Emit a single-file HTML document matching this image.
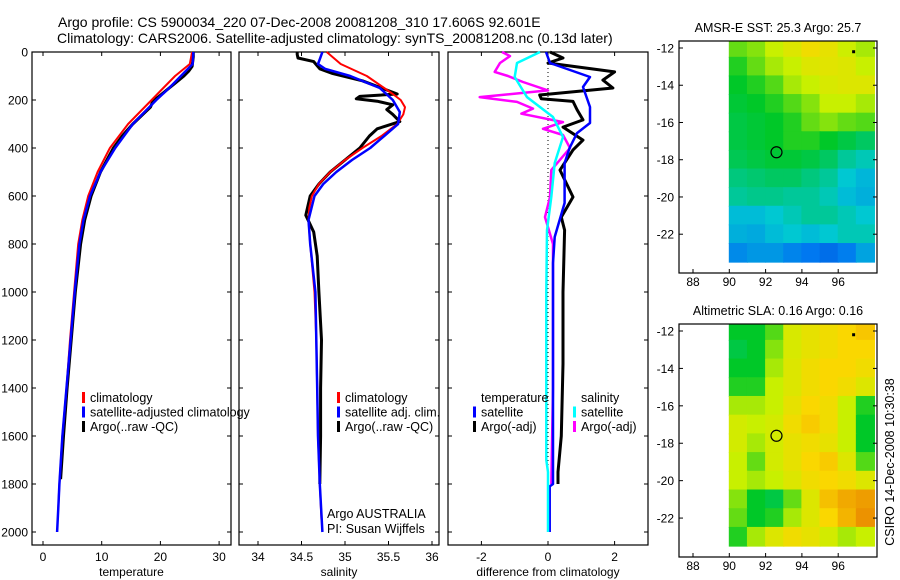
<!DOCTYPE html>
<html><head><meta charset="utf-8"><style>
html,body{margin:0;padding:0;background:#fff;}
svg{display:block;font-family:"Liberation Sans",sans-serif;}
</style></head><body>
<svg id="fig" width="900" height="580" viewBox="0 0 900 580" xmlns="http://www.w3.org/2000/svg">
<text x="58" y="27" font-size="14" text-anchor="start">Argo profile: CS 5900034_220 07-Dec-2008 20081208_310 17.606S 92.601E</text>
<text x="57" y="43" font-size="14" text-anchor="start">Climatology: CARS2006. Satellite-adjusted climatology: synTS_20081208.nc (0.13d later)</text>
<g id="g"></g>
</svg>
<script>
// ---- profile data ----
const tDepthClim=[0,50,100,150,200,300,400,500,600,700,800,1000,1200,1400,1600,1800,1900];
const tClim=[25.4,25.0,22.5,20.5,18.5,14.5,11.4,9.3,7.7,6.7,6.0,5.3,4.6,4.0,3.3,2.8,2.6];
const tDepthSat=[0,50,100,150,200,300,400,500,600,700,800,1000,1200,1400,1600,1800,1900,2000];
const tSat=[25.6,25.5,23.5,21.5,19.3,15.3,12.3,9.8,8.0,6.9,6.2,5.4,4.7,4.0,3.3,2.8,2.6,2.4];
const tDepthArgo=[0,20,40,60,80,100,130,160,190,200,230,260,300,350,400,500,600,700,800,1000,1200,1400,1600,1780];
const tArgo=[25.6,25.6,25.5,25.4,24.8,24.0,22.5,21.0,19.5,18.8,18.3,17.0,15.3,13.5,12.0,9.8,8.2,7.1,6.4,5.5,4.8,4.1,3.5,3.0];

const sDepthClim=[0,50,100,150,175,200,230,260,300,350,400,450,500,550,600,650,700,800,1000,1200,1400,1600,1800,1950];
const sClim=[34.79,34.95,35.25,35.45,35.55,35.64,35.69,35.67,35.6,35.42,35.2,35.0,34.83,34.7,34.62,34.59,34.58,34.6,34.65,34.67,34.68,34.69,34.71,34.73];
const sDepthSat=[0,30,50,70,100,150,200,250,300,350,400,450,500,550,600,700,800,1000,1200,1400,1600,1800,2000];
const sSat=[34.74,34.71,34.69,34.77,35.06,35.4,35.55,35.63,35.61,35.45,35.29,35.08,34.9,34.75,34.65,34.58,34.6,34.66,34.67,34.68,34.69,34.71,34.74];
const sDepthArgo=[0,10,25,40,70,90,120,150,175,185,195,205,220,240,260,290,320,350,400,450,500,550,600,680,750,850,1000,1200,1400,1600,1800];
const sArgo=[34.45,34.45,34.46,34.64,34.71,34.86,35.2,35.42,35.6,35.17,35.13,35.37,35.55,35.48,35.55,35.63,35.37,35.28,35.17,35.0,34.83,34.7,34.6,34.55,34.64,34.68,34.7,34.73,34.72,34.72,34.71];

const dDepthTSat=[0,46,104,146,229,296,338,400,463,629,771,879,1200,1500,1800,1810,2000];
const dTSat=[-0.06,0.06,1.26,1.05,1.26,1.26,0.87,0.65,0.5,0.5,0.2,0.15,0.15,0.15,0.15,0.05,0.05];
const dDepthTArgo=[0,25,46,83,117,150,179,195,206,240,283,313,367,408,492,604,688,742,1000,1300,1600,1750,1800];
const dTArgo=[0.06,0.45,0,2.0,1.65,1.95,-0.25,-0.2,0.75,0.87,1.05,0.45,1.05,0.75,0.36,0.75,0.4,0.5,0.45,0.45,0.4,0.3,0.3];
const dDepthSSat=[0,46,104,188,271,354,463,604,742,1000,1400,1700,1750,2000];
const dSSat=[-0.24,-0.93,-1.0,-0.63,0.15,0.45,0.2,0.1,-0.03,-0.05,-0.05,-0.05,0.0,0.0];
const dDepthSArgo=[0,17,46,83,100,125,160,188,208,236,257,292,320,346,400,492,604,688,800,1000,1400,1800];
const dSArgo=[-1.38,-1.14,-1.44,-1.6,-1.2,-0.75,0,-2.05,-0.93,-0.45,-0.8,0.45,-0.15,0.45,0.66,0.1,0.06,-0.09,0.15,0.15,0.15,0.1];

const depthTicks=[0,200,400,600,800,1000,1200,1400,1600,1800,2000];
const tTicks=[0,10,20,30];
const sTicks=[34,34.5,35,35.5,36];
const dTicks=[-2,0,2];

// ---- map data (rows lat -12..-23, cols lon 90..97), normalized colour value ----
const mapLats=[-12,-13,-14,-15,-16,-17,-18,-19,-20,-21,-22,-23];
const mapLons=[90,91,92,93,94,95,96,97];
const sstGrid=[
[.56,.58,.62,.66,.70,.68,.63,.60],
[.52,.56,.60,.62,.66,.67,.66,.62],
[.50,.52,.55,.60,.62,.65,.66,.66],
[.49,.50,.52,.55,.58,.62,.62,.60],
[.48,.49,.50,.52,.56,.58,.56,.55],
[.48,.49,.50,.52,.52,.50,.48,.46],
[.47,.48,.49,.49,.48,.46,.42,.40],
[.44,.45,.46,.46,.44,.42,.38,.35],
[.42,.43,.43,.42,.42,.40,.36,.34],
[.36,.36,.38,.40,.42,.42,.40,.38],
[.34,.33,.36,.38,.36,.38,.40,.40],
[.28,.30,.30,.27,.25,.22,.26,.32]];
const slaGrid=[
[.50,.50,.55,.65,.68,.70,.72,.75],
[.48,.50,.58,.65,.68,.70,.72,.72],
[.50,.50,.60,.66,.70,.72,.72,.70],
[.52,.52,.62,.66,.70,.72,.70,.66],
[.60,.60,.62,.68,.72,.70,.62,.52],
[.64,.62,.64,.70,.74,.70,.62,.50],
[.64,.60,.64,.68,.70,.68,.62,.50],
[.62,.56,.64,.68,.72,.74,.66,.55],
[.62,.60,.62,.66,.70,.72,.70,.66],
[.58,.50,.48,.56,.66,.76,.80,.82],
[.56,.50,.52,.60,.66,.72,.78,.84],
[.52,.60,.66,.70,.68,.64,.60,.62]];
const latTicks=[-12,-14,-16,-18,-20,-22];
const lonTicks=[88,90,92,94,96];
const argoLon=92.6, argoLat=-17.6;

const NS='http://www.w3.org/2000/svg';
const G=document.getElementById('g');
function mk(tag,attrs,parent){const e=document.createElementNS(NS,tag);for(const k in attrs)e.setAttribute(k,attrs[k]);(parent||G).appendChild(e);return e;}
function txt(x,y,s,size,anchor,parent){const e=mk('text',{x:x,y:y,'font-size':size,'text-anchor':anchor||'start'},parent);e.textContent=s;return e;}

const yTop=52, pxPerDepth=0.24, yBot=545;
const yD=d=>yTop+d*pxPerDepth;
const panels=[
 {name:'temperature',x0:32,x1:231,z:43,k:5.87,ticks:tTicks,label:'temperature'},
 {name:'salinity',x0:239,x1:439,z:258-34*87,k:87,ticks:sTicks,label:'salinity'},
 {name:'difference',x0:448,x1:648,z:548,k:33.3,ticks:dTicks,label:'difference from climatology'}
];
function drawAxes(p,i){
  const g=mk('g',{});
  
  
  mk('rect',{x:p.x0,y:yTop,width:p.x1-p.x0,height:yBot-yTop,fill:'none',stroke:'#000','stroke-width':1.2},g);
  depthTicks.forEach(d=>{const y=yD(d);
    mk('line',{x1:p.x0,y1:y,x2:p.x0+4,y2:y,stroke:'#000'},g);
    mk('line',{x1:p.x1,y1:y,x2:p.x1-4,y2:y,stroke:'#000'},g);
    if(i===0){const t=txt(28,y+4.5,String(d),12,'end',g);}
  });
  p.ticks.forEach(v=>{const x=p.z+v*p.k;
    mk('line',{x1:x,y1:yTop,x2:x,y2:yTop+4,stroke:'#000'},g);
    mk('line',{x1:x,y1:yBot,x2:x,y2:yBot-4,stroke:'#000'},g);
    const t=txt(x,561,String(v),12,'middle',g);
  });
  const l=txt((p.x0+p.x1)/2,576,p.label,12,'middle',g);
  
  
  return g;
}
function line(p,depths,vals,color,w,name,dash){
  const pts=depths.map((d,j)=>(p.z+vals[j]*p.k).toFixed(1)+','+yD(d).toFixed(1)).join(' ');
  const e=mk('polyline',{points:pts,fill:'none',stroke:color,'stroke-width':w,'stroke-linejoin':'round'});
  if(dash)e.setAttribute('stroke-dasharray',dash);
  
  
}
panels.forEach(drawAxes);
const [P1,P2,P3]=panels;
const zl=mk('line',{x1:P3.z,y1:yTop,x2:P3.z,y2:yD(1800),stroke:'#000','stroke-dasharray':'1,3'});



line(P1,tDepthArgo,tArgo,'#000',3,'temperature-argo-line');
line(P1,tDepthClim,tClim,'#f00',2,'temperature-climatology-line');
line(P1,tDepthSat,tSat,'#00f',2.5,'temperature-satellite-line');
line(P2,sDepthArgo,sArgo,'#000',3,'salinity-argo-line');
line(P2,sDepthClim,sClim,'#f00',2,'salinity-climatology-line');
line(P2,sDepthSat,sSat,'#00f',2.5,'salinity-satellite-line');
line(P3,dDepthTArgo,dTArgo,'#000',3,'diff-temperature-argo-line');
line(P3,dDepthSArgo,dSArgo,'#f0f',2.5,'diff-salinity-argo-line');
line(P3,dDepthTSat,dTSat,'#00f',2.5,'diff-temperature-satellite-line');
line(P3,dDepthSSat,dSSat,'#0ff',2.5,'diff-salinity-satellite-line');

function legend(x,y,items,name){
  const g=mk('g',{});
  
  
  items.forEach((it,j)=>{const yy=y+j*14.5;
    if(it[0])mk('rect',{x:x,y:yy-10,width:3,height:11,fill:it[0]},g);
    txt(x+8,yy,it[1],12.5,'start',g);
  });
}
legend(82,402,[['#f00','climatology'],['#00f','satellite-adjusted climatology'],['#000','Argo(..raw -QC)']],'temperature-legend');
legend(337,402,[['#f00','climatology'],['#00f','satellite adj. clim.'],['#000','Argo(..raw -QC)']],'salinity-legend');
legend(473,402,[[null,'temperature'],['#00f','satellite'],['#000','Argo(-adj)']],'diff-temperature-legend');
legend(573,402,[[null,'salinity'],['#0ff','satellite'],['#f0f','Argo(-adj)']],'diff-salinity-legend');
const a1=txt(327,518,'Argo AUSTRALIA',12.5,'start');


const a2=txt(327,533,'PI: Susan Wijffels',12.5,'start');



// ---- maps ----
const stops=[[0,[0,40,180]],[0.25,[0,120,240]],[0.38,[0,200,210]],[0.5,[0,200,40]],[0.62,[200,240,0]],[0.72,[250,215,0]],[0.85,[235,140,0]],[1,[200,60,0]]];
function cmap(v){for(let i=1;i<stops.length;i++){if(v<=stops[i][0]){const a=stops[i-1],b=stops[i],t=(v-a[0])/(b[0]-a[0]);return 'rgb('+a[1].map((c,k)=>Math.round(c+(b[1][k]-c)*t)).join(',')+')';}}return 'rgb(200,60,0)';}
function drawMap(top,bottom,grid,title,name){
  const x0=679,x1=877,lonX=lon=>693+(lon-88)*18.15;
  const latY=lat=>top+7+(-12-lat)*((bottom-top-16)/11.6);
  const g=mk('g',{});
  
  
  grid.forEach((row,r)=>row.forEach((v,c)=>{
    const lon=mapLons[c],lat=mapLats[r];
    const xa=lonX(lon)-0.5, xb=Math.min(lonX(lon+1)+0.5,x1);
    const ya=Math.max(latY(lat+0.5)-0.5,top), yb=Math.min(latY(lat-0.5)+0.5,bottom);
    const cell=mk('rect',{x:xa,y:ya,width:xb-xa,height:yb-ya,fill:cmap(v)},g);
    
    
  }));
  mk('rect',{x:x0,y:top,width:x1-x0,height:bottom-top,fill:'none',stroke:'#000','stroke-width':1.2},g);
  latTicks.forEach(l=>{const y=latY(l);mk('line',{x1:x0,y1:y,x2:x0+4,y2:y,stroke:'#000'},g);mk('line',{x1:x1,y1:y,x2:x1-4,y2:y,stroke:'#000'},g);txt(674,y+4.5,String(l),12,'end',g);});
  lonTicks.forEach(l=>{const x=lonX(l);mk('line',{x1:x,y1:bottom,x2:x,y2:bottom-4,stroke:'#000'},g);txt(x,bottom+13,String(l),12,'middle',g);});
  const t=txt(778,top-9,title,12.5,'middle',g);
  
  
  const c=mk('circle',{cx:lonX(argoLon),cy:latY(argoLat),r:5.5,fill:'none',stroke:'#000','stroke-width':1.2},g);
  
  
  mk('rect',{x:lonX(96.85)-1.5,y:latY(-12.2)-1.5,width:3,height:3,fill:'#000'},g);
}
drawMap(41,273,sstGrid,'AMSR-E SST: 25.3 Argo: 25.7','sst-map');
drawMap(324,557,slaGrid,'Altimetric SLA: 0.16 Argo: 0.16','sla-map');
const cs=txt(0,0,'CSIRO 14-Dec-2008 10:30:38',12.5,'middle');
cs.setAttribute('transform','translate(894,462) rotate(-90)');


</script>
</body></html>
